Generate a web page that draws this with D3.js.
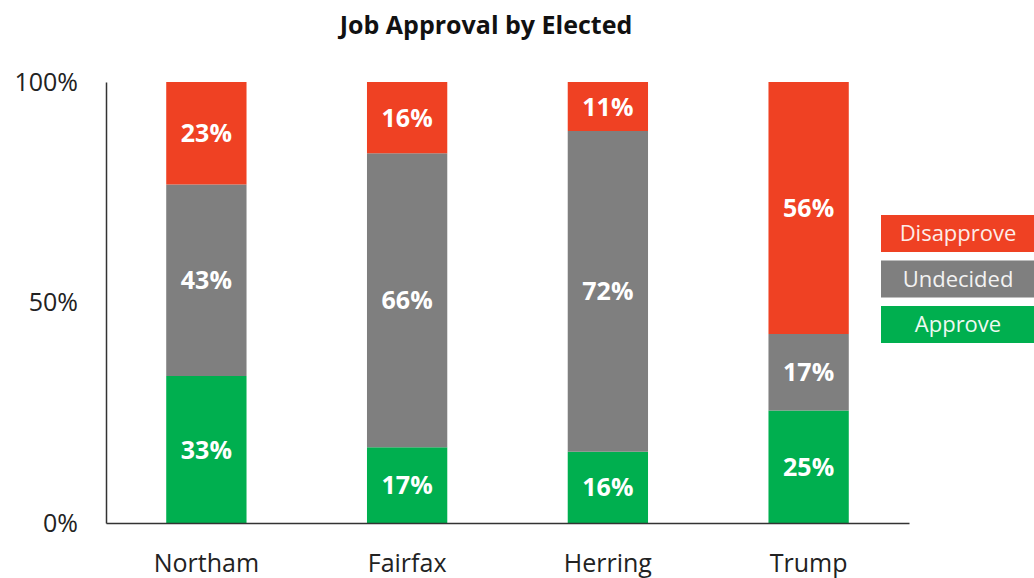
<!DOCTYPE html>
<html>
<head>
<meta charset="utf-8">
<script src="https://cdn.jsdelivr.net/npm/d3@7"></script>
<style>
  html, body { margin: 0; padding: 0; background: #fff; }
  svg { display: block; font-family: "Open Sans", sans-serif; }
</style>
</head>
<body>
<svg id="chart" width="1034" height="578"></svg>
<script>
// Job approval survey results, percent of respondents
const officials = ["Northam", "Fairfax", "Herring", "Trump"];
const approve    = [33, 17, 16, 25];
const undecided  = [43, 66, 72, 17];
const disapprove = [23, 16, 11, 56];
const seriesNames = ["Approve", "Undecided", "Disapprove"];
const yTicks = [0, 0.5, 1];
const yTickLabels = ["0%", "50%", "100%"];

const colors = { Approve: "#00AF4F", Undecided: "#7F7F7F", Disapprove: "#EF4123" };
const legendText = { Approve: "#eefaf2", Undecided: "#f2f2f2", Disapprove: "#fdece8" };

const rows = officials.map((name, i) => ({
  name, Approve: approve[i], Undecided: undecided[i], Disapprove: disapprove[i]
}));

const svg = d3.select("#chart");
const margin = { left: 106, right: 125, top: 82, bottom: 55 };
const W = 1034, H = 578;

const x = d3.scaleBand().domain(officials)
  .range([margin.left, W - margin.right]).paddingInner(0.6).paddingOuter(0.3);
const y = d3.scaleLinear().domain([0, 1]).range([H - margin.bottom, margin.top]);

// Each bar is shown as shares of its own total
const stack = d3.stack().keys(seriesNames).offset(d3.stackOffsetExpand);
const layers = stack(rows);

// Title
svg.append("text")
  .attr("x", 486).attr("y", 34)
  .attr("text-anchor", "middle")
  .attr("font-size", 25).attr("font-weight", 700)
  .attr("fill", "#111")
  .text("Job Approval by Elected");

// Stacked bars
const g = svg.append("g");
layers.forEach(layer => {
  const key = layer.key;
  g.selectAll(null).data(layer).join("rect")
    .attr("x", d => x(d.data.name))
    .attr("width", x.bandwidth())
    .attr("y", d => y(d[1]))
    .attr("height", d => y(d[0]) - y(d[1]))
    .attr("fill", colors[key]);

  g.selectAll(null).data(layer).join("text")
    .attr("x", d => x(d.data.name) + x.bandwidth() / 2)
    .attr("y", d => (y(d[0]) + y(d[1])) / 2)
    .attr("dy", "0.36em")
    .attr("text-anchor", "middle")
    .attr("font-size", 25).attr("font-weight", 700)
    .attr("fill", "#fff")
    .text(d => d.data[key] + "%");
});

// Y axis
const yAxis = d3.axisLeft(y).tickValues(yTicks)
  .tickFormat((d, i) => yTickLabels[i]).tickSize(0).tickPadding(28);
const ya = svg.append("g").attr("transform", `translate(${margin.left},0)`).call(yAxis);
ya.select(".domain").attr("stroke", "#333").attr("stroke-width", 1.5);
ya.selectAll("text").attr("font-size", 25).attr("fill", "#222")
  .attr("font-family", "'Open Sans', sans-serif");

// X axis
const xAxis = d3.axisBottom(x).tickSize(0).tickPadding(31);
const xa = svg.append("g").attr("transform", `translate(0,${H - margin.bottom})`).call(xAxis);
xa.select(".domain").attr("stroke", "#333").attr("stroke-width", 1.5);
xa.selectAll("text").attr("font-size", 25).attr("fill", "#222")
  .attr("font-family", "'Open Sans', sans-serif");

// Legend
const legendOrder = ["Disapprove", "Undecided", "Approve"];
const legY = d3.scalePoint().domain(legendOrder).range([215, 306]);
const leg = svg.append("g").selectAll("g").data(legendOrder).join("g")
  .attr("transform", k => `translate(881,${legY(k)})`);
leg.append("rect").attr("width", 160).attr("height", 37)
  .attr("fill", k => colors[k]);
leg.append("text")
  .attr("x", 77).attr("y", 18.5).attr("dy", "0.36em")
  .attr("text-anchor", "middle")
  .attr("font-size", 22)
  .attr("fill", k => legendText[k])
  .text(k => k);
</script>
</body>
</html>
